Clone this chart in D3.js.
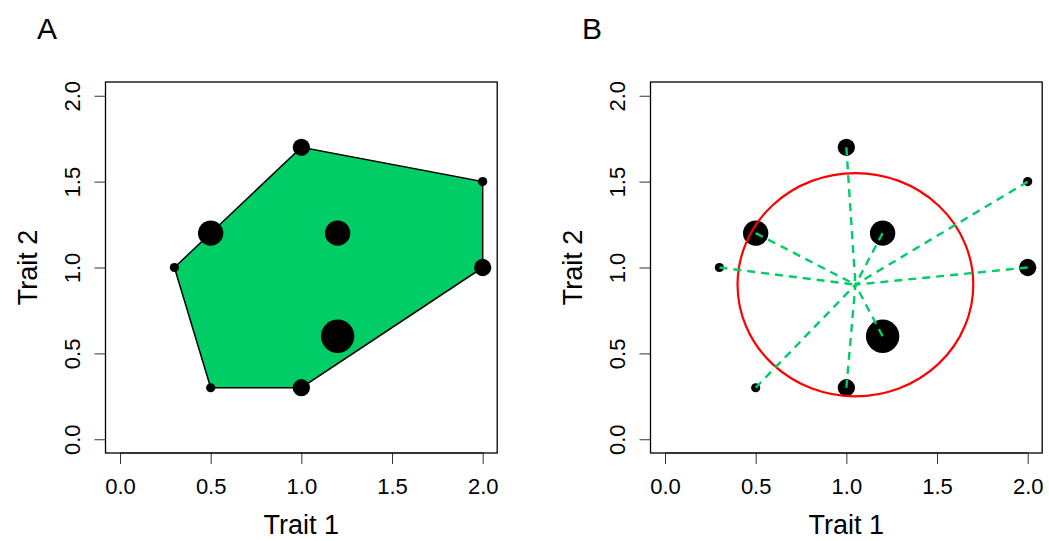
<!DOCTYPE html>
<html>
<head>
<meta charset="utf-8">
<script src="https://cdn.jsdelivr.net/npm/d3@7"></script>
<style>
  body { margin: 0; background: #fff; }
  svg { display: block; font-family: "Liberation Sans", Arial, sans-serif; }
</style>
</head>
<body>
<svg id="chart" width="1049" height="541"></svg>
<script>
// species positions in trait space and their abundance class
const trait1 = [1.0, 2.0, 0.5, 1.2, 0.3, 2.0, 1.2, 0.5, 1.0];
const trait2 = [1.7, 1.5, 1.2, 1.2, 1.0, 1.0, 0.6, 0.3, 0.3];
const abundance = [2, 1, 3, 3, 1, 2, 4, 1, 2];
// convex hull vertices (indices into the species)
const hullIdx = [4, 0, 1, 5, 8, 7];
// abundance-weighted centroid and mean distance (panel B)
const centroid = [1.05, 0.9];
const meanDist = 0.65;
const ticks = [0, 0.5, 1, 1.5, 2];
const panels = ["A", "B"];

const green = "#00cd66";
const svg = d3.select("#chart");
const pts = trait1.map((t, i) => ({x: t, y: trait2[i], w: abundance[i]}));

const x = d3.scaleLinear().domain([-0.08, 2.08]).range([105.5, 497.2]);
const y = d3.scaleLinear().domain([-0.08, 2.08]).range([453, 82]);
const r = d3.scaleLinear().domain([1, 4]).range([4.6, 16.7]);

panels.forEach((name, p) => {
    const g = svg.append("g").attr("transform", `translate(${p * 545},0)`);

    g.append("text").attr("x", 37).attr("y", 39)
        .attr("font-size", 30).text(name);

    // axes
    const xa = g.append("g").attr("transform", "translate(0,453)")
        .call(d3.axisBottom(x).tickValues(ticks).tickFormat(d3.format(".1f")).tickSize(11).tickSizeOuter(0));
    xa.select(".domain").attr("d", `M${x(0)},0H${x(2)}`);
    xa.selectAll("text").attr("font-size", 22).attr("dy", 0).attr("y", 41)
        .attr("font-family", "Liberation Sans, Arial, sans-serif");

    const ya = g.append("g").attr("transform", "translate(105.5,0)")
        .call(d3.axisLeft(y).tickValues(ticks).tickFormat(d3.format(".1f")).tickSize(11).tickSizeOuter(0));
    ya.select(".domain").attr("d", `M0,${y(0)}V${y(2)}`);
    ya.selectAll(".tick text")
        .attr("font-size", 22).attr("x", 0).attr("dy", 0).attr("y", 0)
        .attr("text-anchor", "middle")
        .attr("font-family", "Liberation Sans, Arial, sans-serif")
        .attr("transform", "translate(-26,0) rotate(-90)");
    g.selectAll(".tick line").attr("stroke", "#333");
    g.selectAll(".domain").attr("stroke", "#333");

    g.append("text").attr("x", (105.5 + 497.2) / 2).attr("y", 534)
        .attr("text-anchor", "middle").attr("font-size", 27).text("Trait 1");
    g.append("text").attr("transform", `translate(37,${(82 + 453) / 2}) rotate(-90)`)
        .attr("text-anchor", "middle").attr("font-size", 27).text("Trait 2");

    if (p === 0) {
        g.append("path")
            .attr("d", d3.line().x(i => x(trait1[i])).y(i => y(trait2[i])).curve(d3.curveLinearClosed)(hullIdx))
            .attr("fill", green).attr("stroke", "#000").attr("stroke-width", 1.5);
        g.selectAll("circle.pt").data(pts).join("circle").attr("class", "pt")
            .attr("cx", d => x(d.x)).attr("cy", d => y(d.y)).attr("r", d => r(d.w))
            .attr("fill", "#000");
    } else {
        g.selectAll("circle.pt").data(pts).join("circle").attr("class", "pt")
            .attr("cx", d => x(d.x)).attr("cy", d => y(d.y)).attr("r", d => r(d.w))
            .attr("fill", "#000");
        g.append("ellipse")
            .attr("cx", x(centroid[0])).attr("cy", y(centroid[1]))
            .attr("rx", x(centroid[0] + meanDist) - x(centroid[0]))
            .attr("ry", y(centroid[1]) - y(centroid[1] + meanDist))
            .attr("fill", "none").attr("stroke", "#ff0000").attr("stroke-width", 2.2);
        g.selectAll("line.d").data(pts).join("line").attr("class", "d")
            .attr("x1", d => x(d.x)).attr("y1", d => y(d.y))
            .attr("x2", x(centroid[0])).attr("y2", y(centroid[1]))
            .attr("stroke", green).attr("stroke-width", 2.4)
            .attr("stroke-dasharray", "8,6");
    }

    g.append("rect").attr("x", 105.5).attr("y", 82)
        .attr("width", 497.2 - 105.5).attr("height", 453 - 82)
        .attr("fill", "none").attr("stroke", "#000").attr("stroke-width", 1.3);
});
</script>
</body>
</html>
